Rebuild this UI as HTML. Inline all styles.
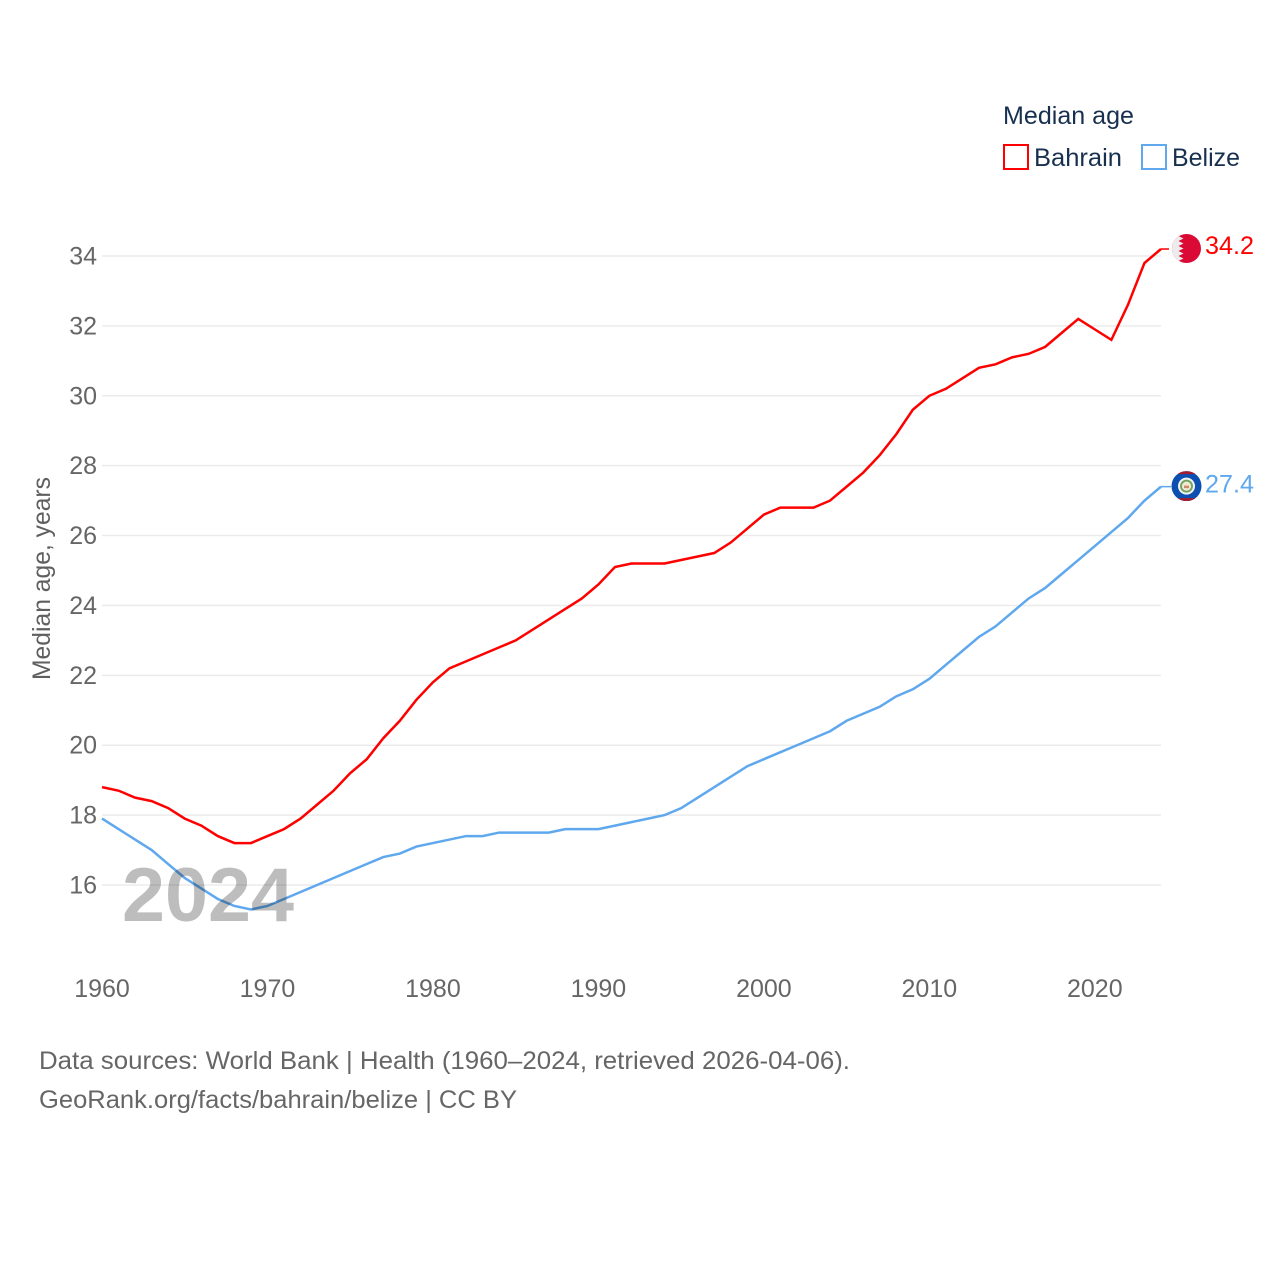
<!DOCTYPE html>
<html lang="en">
<head>
<meta charset="utf-8">
<title>Median age: Bahrain and Belize</title>
<style>
html,body{margin:0;padding:0;background:#fff;width:1280px;height:1280px;overflow:hidden}
svg{display:block;font-family:"Liberation Sans",sans-serif}
</style>
</head>
<body>
<svg id="chart" width="1280" height="1280" viewBox="0 0 1280 1280" xmlns="http://www.w3.org/2000/svg">
  <rect width="1280" height="1280" fill="#fff"/>

  <g>
    <text x="1003" y="124" font-size="25" fill="#18304f" textLength="131" lengthAdjust="spacingAndGlyphs">Median age</text>
    <g>
      <rect x="1004" y="145" width="24" height="24" fill="#fff" stroke="#ff0000" stroke-width="2"/>
      <text x="1034" y="166" font-size="25" fill="#18304f" textLength="88" lengthAdjust="spacingAndGlyphs">Bahrain</text>
    </g>
    <g>
      <rect x="1142" y="145" width="24" height="24" fill="#fff" stroke="#5fa8ee" stroke-width="2"/>
      <text x="1172" y="166" font-size="25" fill="#18304f" textLength="68" lengthAdjust="spacingAndGlyphs">Belize</text>
    </g>
  </g>

  <g id="grid"></g>
  <g id="yticks"></g>
  <g id="xticks"></g>

  <text transform="translate(50,680) rotate(-90)" font-size="25" fill="#5f5f5f" textLength="203" lengthAdjust="spacingAndGlyphs">Median age, years</text>

  <g id="series"></g>

  <text id="year" x="122" y="921" font-size="76" font-weight="bold" fill="#bdbdbd" textLength="172" lengthAdjust="spacingAndGlyphs" style="mix-blend-mode:multiply">2024</text>

  <g id="flag-bahrain">
    <defs>
      <clipPath id="flag-clip-a"><circle cx="0" cy="0" r="14.5"/></clipPath>
      <clipPath id="flag-clip-b"><circle cx="0" cy="0" r="15"/></clipPath>
    </defs>
    <g clip-path="url(#flag-clip-a)">
      <rect x="-15" y="-15" width="30" height="30" fill="#da0a34"/>
      <polygon fill="#ececec" points="-15,-15 -5,-15 -8,-12.5 -3,-10 -8,-7.5 -3,-5 -8,-2.5 -3,0 -8,2.5 -3,5 -8,7.5 -3,10 -8,12.5 -5,15 -15,15"/>
    </g>
  </g>
  <g id="flag-belize">
    <g clip-path="url(#flag-clip-b)">
      <rect x="-15" y="-15" width="30" height="30" fill="#0b50b0"/>
      <rect x="-15" y="-15" width="30" height="3" fill="#a51c30"/>
      <rect x="-15" y="12" width="30" height="3" fill="#a51c30"/>
      <circle r="8.5" fill="#f2f4f4"/>
      <circle r="5.5" fill="none" stroke="#76a35e" stroke-width="2"/>
      <circle r="3.8" fill="#f4e6cf"/>
      <rect x="-2.5" y="-0.5" width="5" height="2.5" fill="#c98d6e"/>
    </g>
  </g>

  <text id="label-bahrain" x="1205" y="254" font-size="25" fill="#ff0000" textLength="49" lengthAdjust="spacingAndGlyphs"></text>
  <text id="label-belize" x="1205" y="493" font-size="25" fill="#5fa8ee" textLength="49" lengthAdjust="spacingAndGlyphs"></text>

  <g>
    <text x="39" y="1069" font-size="25" fill="#666" textLength="811" lengthAdjust="spacingAndGlyphs">Data sources: World Bank | Health (1960–2024, retrieved 2026-04-06).</text>
    <text x="39" y="1108" font-size="25" fill="#666" textLength="478" lengthAdjust="spacingAndGlyphs">GeoRank.org/facts/bahrain/belize | CC BY</text>
  </g>
</svg>
<script>
const years = [1960,1961,1962,1963,1964,1965,1966,1967,1968,1969,1970,1971,1972,1973,1974,1975,1976,1977,1978,1979,1980,1981,1982,1983,1984,1985,1986,1987,1988,1989,1990,1991,1992,1993,1994,1995,1996,1997,1998,1999,2000,2001,2002,2003,2004,2005,2006,2007,2008,2009,2010,2011,2012,2013,2014,2015,2016,2017,2018,2019,2020,2021,2022,2023,2024];
const bahrain = [18.8,18.7,18.5,18.4,18.2,17.9,17.7,17.4,17.2,17.2,17.4,17.6,17.9,18.3,18.7,19.2,19.6,20.2,20.7,21.3,21.8,22.2,22.4,22.6,22.8,23.0,23.3,23.6,23.9,24.2,24.6,25.1,25.2,25.2,25.2,25.3,25.4,25.5,25.8,26.2,26.6,26.8,26.8,26.8,27.0,27.4,27.8,28.3,28.9,29.6,30.0,30.2,30.5,30.8,30.9,31.1,31.2,31.4,31.8,32.2,31.9,31.6,32.6,33.8,34.2];
const belize = [17.9,17.6,17.3,17.0,16.6,16.2,15.9,15.6,15.4,15.3,15.4,15.6,15.8,16.0,16.2,16.4,16.6,16.8,16.9,17.1,17.2,17.3,17.4,17.4,17.5,17.5,17.5,17.5,17.6,17.6,17.6,17.7,17.8,17.9,18.0,18.2,18.5,18.8,19.1,19.4,19.6,19.8,20.0,20.2,20.4,20.7,20.9,21.1,21.4,21.6,21.9,22.3,22.7,23.1,23.4,23.8,24.2,24.5,24.9,25.3,25.7,26.1,26.5,27.0,27.4];
const yTickValues = [16,18,20,22,24,26,28,30,32,34];
const xTickValues = [1960,1970,1980,1990,2000,2010,2020];

const NS = 'http://www.w3.org/2000/svg';
const xScale = function (year) { return 102 + (year - 1960) * (1161 - 102) / 64; };
const yScale = function (value) { return 885 - (value - 16) * (885 - 256) / 18; };

const gridLayer = document.getElementById('grid');
const yTickLayer = document.getElementById('yticks');
const xTickLayer = document.getElementById('xticks');
const seriesLayer = document.getElementById('series');

yTickValues.forEach(function (tick) {
  const line = document.createElementNS(NS, 'line');
  
  
  line.setAttribute('x1', 102);
  line.setAttribute('x2', 1161);
  line.setAttribute('y1', yScale(tick));
  line.setAttribute('y2', yScale(tick));
  line.setAttribute('stroke', '#ebebeb');
  line.setAttribute('stroke-width', 1.5);
  gridLayer.appendChild(line);

  const label = document.createElementNS(NS, 'text');
  
  
  label.setAttribute('x', 97);
  label.setAttribute('y', yScale(tick) + 8.5);
  label.setAttribute('text-anchor', 'end');
  label.setAttribute('font-size', 25);
  label.setAttribute('fill', '#666');
  label.textContent = tick;
  yTickLayer.appendChild(label);
});

xTickValues.forEach(function (tick) {
  const label = document.createElementNS(NS, 'text');
  
  
  label.setAttribute('x', xScale(tick));
  label.setAttribute('y', 997);
  label.setAttribute('text-anchor', 'middle');
  label.setAttribute('font-size', 25);
  label.setAttribute('fill', '#666');
  label.textContent = tick;
  xTickLayer.appendChild(label);
});

function linePath(values) {
  return values.map(function (value, i) {
    return (i ? 'L' : 'M') + xScale(years[i]).toFixed(2) + ',' + yScale(value).toFixed(2);
  }).join(' ');
}

const bahrainLine = document.createElementNS(NS, 'path');


bahrainLine.setAttribute('d', linePath(bahrain));
bahrainLine.setAttribute('fill', 'none');
bahrainLine.setAttribute('stroke', '#ff0000');
bahrainLine.setAttribute('stroke-width', 2.5);
seriesLayer.appendChild(bahrainLine);

const belizeLine = document.createElementNS(NS, 'path');


belizeLine.setAttribute('d', linePath(belize));
belizeLine.setAttribute('fill', 'none');
belizeLine.setAttribute('stroke', '#5fa8ee');
belizeLine.setAttribute('stroke-width', 2.5);
seriesLayer.appendChild(belizeLine);

const lastBahrain = bahrain[bahrain.length - 1];
const lastBelize = belize[belize.length - 1];

const bahrainLeader = document.createElementNS(NS, 'line');


bahrainLeader.setAttribute('x1', xScale(2024));
bahrainLeader.setAttribute('x2', xScale(2024) + 8);
bahrainLeader.setAttribute('y1', yScale(lastBahrain));
bahrainLeader.setAttribute('y2', yScale(lastBahrain));
bahrainLeader.setAttribute('stroke', '#ff0000');
bahrainLeader.setAttribute('stroke-width', 1.5);
seriesLayer.appendChild(bahrainLeader);

const belizeLeader = document.createElementNS(NS, 'line');


belizeLeader.setAttribute('x1', xScale(2024));
belizeLeader.setAttribute('x2', xScale(2024) + 10);
belizeLeader.setAttribute('y1', yScale(lastBelize));
belizeLeader.setAttribute('y2', yScale(lastBelize));
belizeLeader.setAttribute('stroke', '#5fa8ee');
belizeLeader.setAttribute('stroke-width', 1.5);
seriesLayer.appendChild(belizeLeader);

document.getElementById('flag-bahrain').setAttribute('transform', 'translate(1186.5,' + (yScale(lastBahrain) - 0.5) + ')');
document.getElementById('flag-belize').setAttribute('transform', 'translate(1186.5,' + (yScale(lastBelize) - 0.5) + ')');

const bahrainValue = document.getElementById('label-bahrain');
bahrainValue.setAttribute('y', yScale(lastBahrain) + 5);
bahrainValue.textContent = lastBahrain.toFixed(1);
const belizeValue = document.getElementById('label-belize');
belizeValue.setAttribute('y', yScale(lastBelize) + 6);
belizeValue.textContent = lastBelize.toFixed(1);

document.getElementById('year').textContent = years[years.length - 1];
</script>
</body>
</html>
